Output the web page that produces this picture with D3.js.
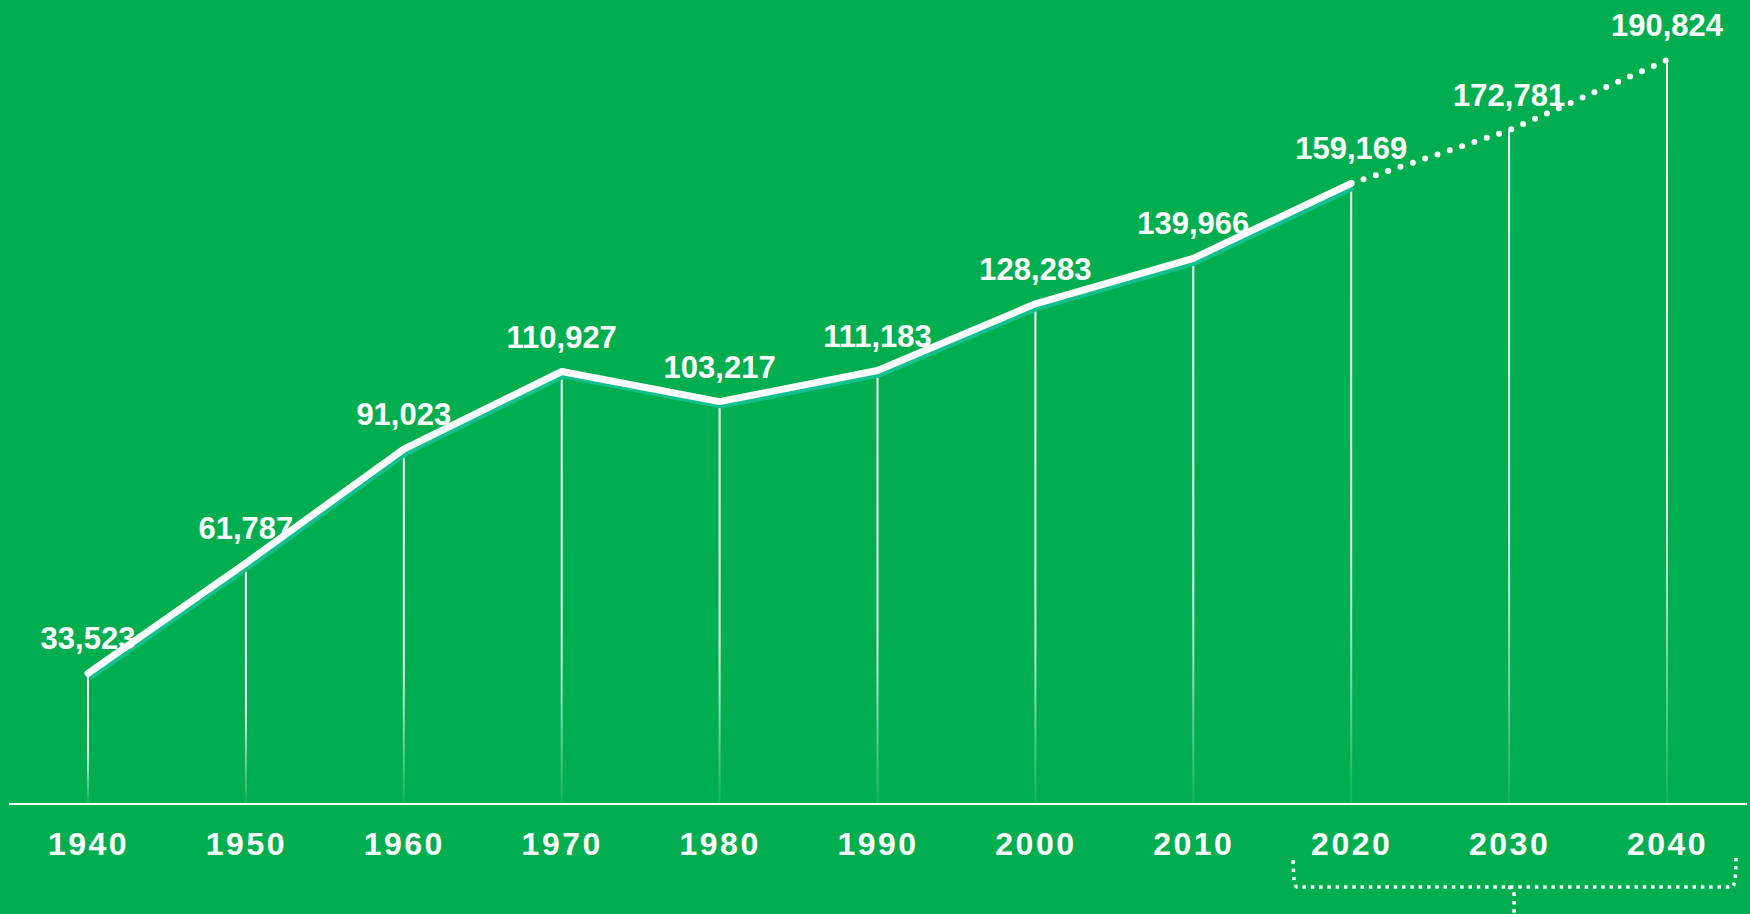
<!DOCTYPE html>
<html>
<head>
<meta charset="utf-8">
<script src="https://d3js.org/d3.v7.min.js"></script>
<style>
  html, body { margin: 0; padding: 0; background: #00ae4f; overflow: hidden; }
  svg { display: block; }
  text { font-family: "Liberation Sans", Arial, sans-serif; font-weight: bold; fill: #fff; }
</style>
</head>
<body>
<div id="chart"></div>
<script>
// actual census counts, then projections
const years = [1940, 1950, 1960, 1970, 1980, 1990, 2000, 2010, 2020];
const values = [33523, 61787, 91023, 110927, 103217, 111183, 128283, 139966, 159169];
const projYears = [2020, 2030, 2040];
const projValues = [159169, 172781, 190824];
const tickYears = [1940, 1950, 1960, 1970, 1980, 1990, 2000, 2010, 2020, 2030, 2040];

const width = 1750, height = 914;
const baseY = 804;

const svg = d3.select("#chart")
  .append("svg")
  .attr("width", width)
  .attr("height", height);

const x = d3.scaleLinear().domain([1940, 2040]).range([88, 1667]);
const y = d3.scaleLinear().domain([0, d3.max(projValues)]).range([baseY, 60]);

const fmt = d3.format(",");

const actual = years.map((yr, i) => ({ year: yr, value: values[i] }));
const proj = projYears.map((yr, i) => ({ year: yr, value: projValues[i] }));
const all = actual.concat(proj.slice(1));

// fading drop lines
const defs = svg.append("defs");
const grad = defs.append("linearGradient")
  .attr("id", "fade")
  .attr("x1", 0).attr("y1", 0).attr("x2", 0).attr("y2", 1);
grad.append("stop").attr("offset", "0%").attr("stop-color", "#fff").attr("stop-opacity", 1);
grad.append("stop").attr("offset", "60%").attr("stop-color", "#fff").attr("stop-opacity", 0.9);
grad.append("stop").attr("offset", "100%").attr("stop-color", "#fff").attr("stop-opacity", 0.08);

svg.append("g")
  .selectAll("rect")
  .data(all)
  .enter().append("rect")
    .attr("x", d => x(d.year) - 1)
    .attr("y", d => y(d.value))
    .attr("width", 2)
    .attr("height", d => baseY - 2 - y(d.value))
    .attr("fill", "url(#fade)");

// baseline
svg.append("line")
  .attr("x1", 9).attr("x2", 1747)
  .attr("y1", baseY).attr("y2", baseY)
  .attr("stroke", "#fff")
  .attr("stroke-width", 2);

const line = d3.line()
  .x(d => x(d.year))
  .y(d => y(d.value));

// teal shadow under main line
svg.append("path")
  .datum(actual)
  .attr("d", line)
  .attr("transform", "translate(2,4)")
  .attr("fill", "none")
  .attr("stroke", "#12c08e")
  .attr("stroke-width", 6)
  .attr("stroke-linejoin", "round");

svg.append("path")
  .datum(actual)
  .attr("d", line)
  .attr("fill", "none")
  .attr("stroke", "#fff")
  .attr("stroke-width", 7)
  .attr("stroke-linejoin", "round")
  .attr("stroke-linecap", "round");

// value labels
svg.append("g")
  .selectAll("text")
  .data(all)
  .enter().append("text")
    .attr("x", d => x(d.year))
    .attr("y", d => y(d.value) - 24)
    .attr("text-anchor", "middle")
    .attr("font-size", 31)
    .text(d => fmt(d.value));

// projected dotted line
svg.append("path")
  .datum(proj)
  .attr("d", line)
  .attr("fill", "none")
  .attr("stroke", "#fff")
  .attr("stroke-width", 6)
  .attr("stroke-linecap", "round")
  .attr("stroke-dasharray", "0 13");

// year axis
const axis = d3.axisBottom(x)
  .tickValues(tickYears)
  .tickFormat(d3.format("d"))
  .tickSize(0)
  .tickPadding(0);

const gx = svg.append("g")
  .attr("transform", `translate(0,${baseY})`)
  .call(axis);
gx.select(".domain").remove();
gx.selectAll("text")
  .attr("dy", null)
  .attr("y", 51)
  .attr("dx", 0)
  .attr("fill", "#fff")
  .style("font-family", "'Liberation Sans', Arial, sans-serif")
  .style("font-weight", "bold")
  .style("font-size", "32px")
  .style("letter-spacing", "2.5px");

// bracket under projection years
const bl = x(2020) - 58, br = x(2040) + 69, bm = x(2030) + 5;
svg.append("path")
  .attr("d", `M${bl},860 Q${bl},887 ${bl + 4},887 L${br - 4},887 Q${br},887 ${br},858`)
  .attr("fill", "none")
  .attr("stroke", "#fff")
  .attr("stroke-width", 3.5)
  .attr("stroke-dasharray", "3.5 4.8");
svg.append("path")
  .attr("d", `M${bm - 6},887 Q${bm},888 ${bm},896 L${bm},914`)
  .attr("fill", "none")
  .attr("stroke", "#fff")
  .attr("stroke-width", 3.5)
  .attr("stroke-dasharray", "3.5 4.8");
</script>
</body>
</html>
